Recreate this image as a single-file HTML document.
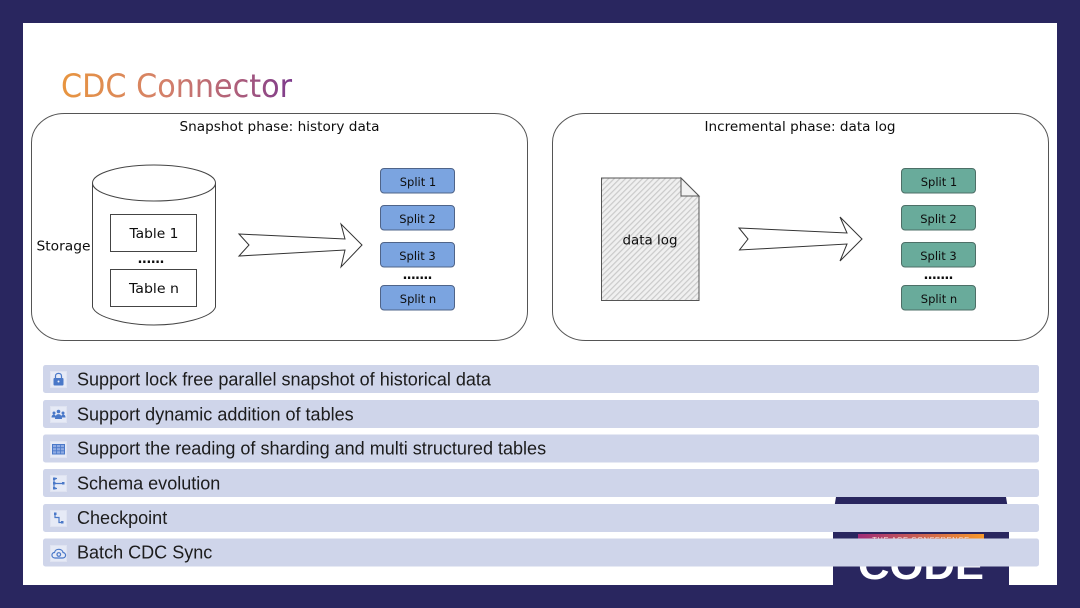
<!DOCTYPE html>
<html><head><meta charset="utf-8">
<style>
html,body{margin:0;padding:0;width:1080px;height:608px;overflow:hidden;background:#29265f}
svg{display:block;filter:blur(.35px)}
.h{font-family:"DejaVu Sans",sans-serif;fill:#0d0d0d;text-anchor:middle;font-size:13px}
.s{font-size:11.5px}
.r{font-family:"Liberation Sans",sans-serif;font-size:18.05px;fill:#1c1c1c}
.l{fill:none;stroke:#444;stroke-width:1}
.i{fill:#e6eaf6;stroke:#dfe3f1;stroke-width:1}
.b{fill:#4a78c8}
.bs{fill:none;stroke:#4a78c8;stroke-width:1.2}
</style></head><body>
<svg width="1080" height="608" viewBox="0 0 1080 608" xmlns="http://www.w3.org/2000/svg">
<defs>
<linearGradient id="tg" gradientUnits="userSpaceOnUse" x1="62" y1="0" x2="292" y2="0">
<stop offset="0" stop-color="#e8953f"/><stop offset=".45" stop-color="#d4806a"/><stop offset=".75" stop-color="#b0607a"/><stop offset="1" stop-color="#7d3a8c"/>
</linearGradient>
<linearGradient id="og" x1="0" y1="0" x2="1" y2="0">
<stop offset="0" stop-color="#a02c78"/><stop offset="1" stop-color="#f7982a"/>
</linearGradient>
<pattern id="hatch" width="4" height="4" patternUnits="userSpaceOnUse" patternTransform="rotate(45)">
<rect width="4" height="4" fill="#f0f0f0"/><rect width="1.2" height="4" fill="#cacaca"/>
</pattern>
</defs>

<rect x="23" y="23" width="1034" height="562" fill="#fff"/>

<!-- badge -->
<path d="M836 497H1006L1009 515V585H833V515Z" fill="#29265f"/>
<rect x="858" y="534" width="126" height="12" fill="url(#og)"/>
<text x="921" y="542" font-family="Liberation Sans,sans-serif" font-size="7.5" fill="#f3d9d0" text-anchor="middle" letter-spacing=".6">THE ACE CONFERENCE</text>
<text x="921" y="579" font-family="Liberation Sans,sans-serif" font-size="40" font-weight="700" fill="#fff" text-anchor="middle" textLength="126" lengthAdjust="spacingAndGlyphs">CODE</text>

<!-- title -->
<text x="61" y="97" font-family="DejaVu Sans,sans-serif" font-size="32" fill="url(#tg)" textLength="231" lengthAdjust="spacingAndGlyphs">CDC Connector</text>

<!-- panels -->
<rect x="31.500" y="113.500" width="496" height="227" rx="33" ry="29" fill="#fff" stroke="#555" stroke-width="1"/>
<rect x="552.500" y="113.500" width="496" height="227" rx="33" ry="29" fill="#fff" stroke="#555" stroke-width="1"/>
<text class="h" x="279.500" y="131" textLength="200" lengthAdjust="spacingAndGlyphs">Snapshot phase: history data</text>
<text class="h" x="800" y="131" textLength="191" lengthAdjust="spacingAndGlyphs">Incremental phase: data log</text>

<!-- cylinder -->
<path class="l" d="M92.500 183V307C96 318 128 325 154 325C180 325 212 318 215.500 307V183"/>
<ellipse class="l" cx="154" cy="183" rx="61.500" ry="18"/>
<rect class="l" x="110.500" y="214.500" width="86" height="37"/>
<rect class="l" x="110.500" y="269.500" width="86" height="37"/>
<text class="h" x="154" y="238" textLength="49" lengthAdjust="spacingAndGlyphs">Table 1</text>
<text class="h" x="154" y="293" textLength="50" lengthAdjust="spacingAndGlyphs">Table n</text>
<text class="h" x="63.500" y="250.500" textLength="54" lengthAdjust="spacingAndGlyphs">Storage</text>
<text class="h" x="151" y="263" textLength="27" lengthAdjust="spacing" font-weight="700" font-size="11">......</text>

<!-- arrows -->
<path d="M239 234L345 239L341 224L362 245L341 267L345 250L239 256L249 245Z" fill="#fff" stroke="#333" stroke-width="1"/>
<path d="M739 228L847 233L840 217L862 239L840 261L847 244L739.500 250L748 239Z" fill="#fff" stroke="#333" stroke-width="1"/>

<!-- blue splits -->
<g fill="#7ba4e0" stroke="#4f6489" stroke-width="1">
<rect x="380.500" y="168.500" width="74" height="24.500" rx="3.500"/>
<rect x="380.500" y="205.500" width="74" height="24.500" rx="3.500"/>
<rect x="380.500" y="242.500" width="74" height="24.500" rx="3.500"/>
<rect x="380.500" y="285.500" width="74" height="24.500" rx="3.500"/>
</g>
<text class="h s" x="418" y="186">Split 1</text>
<text class="h s" x="417.500" y="223">Split 2</text>
<text class="h s" x="417.500" y="260">Split 3</text>
<text class="h s" x="418" y="303">Split n</text>
<text class="h" x="417.500" y="279" font-weight="700" font-size="11" textLength="30" lengthAdjust="spacing">.......</text>

<!-- doc -->
<path d="M601.500 178H681L699 196V300.500H601.500Z" fill="url(#hatch)" stroke="#555" stroke-width="1"/>
<path d="M681 178L699 196H681Z" fill="#f2f2f2" stroke="#555" stroke-width="1"/>
<text class="h" x="650" y="244.500" textLength="55" lengthAdjust="spacingAndGlyphs">data log</text>

<!-- green splits -->
<g fill="#69ab9b" stroke="#4d6f67" stroke-width="1">
<rect x="901.500" y="168.500" width="74" height="24.500" rx="3.500"/>
<rect x="901.500" y="205.500" width="74" height="24.500" rx="3.500"/>
<rect x="901.500" y="242.500" width="74" height="24.500" rx="3.500"/>
<rect x="901.500" y="285.500" width="74" height="24.500" rx="3.500"/>
</g>
<text class="h s" x="939" y="186">Split 1</text>
<text class="h s" x="938.500" y="223">Split 2</text>
<text class="h s" x="938.500" y="260">Split 3</text>
<text class="h s" x="939" y="303">Split n</text>
<text class="h" x="938.500" y="279" font-weight="700" font-size="11" textLength="30" lengthAdjust="spacing">.......</text>

<!-- rows -->
<g fill="#cfd5ea">
<rect x="43" y="365" width="996" height="28" rx="2.500"/>
<rect x="43" y="400" width="996" height="28" rx="2.500"/>
<rect x="43" y="434.500" width="996" height="28" rx="2.500"/>
<rect x="43" y="469" width="996" height="28" rx="2.500"/>
<rect x="43" y="504" width="996" height="28" rx="2.500"/>
<rect x="43" y="538.500" width="996" height="28" rx="2.500"/>
</g>
<text class="r" x="77" y="385.500">Support lock free parallel snapshot of historical data</text>
<text class="r" x="77" y="420.500">Support dynamic addition of tables</text>
<text class="r" x="77" y="454.500">Support the reading of sharding and multi structured tables</text>
<text class="r" x="77" y="489.500">Schema evolution</text>
<text class="r" x="77" y="524">Checkpoint</text>
<text class="r" x="77" y="558.500">Batch CDC Sync</text>

<!-- icons -->
<g>
<rect class="i" x="50.500" y="371.500" width="16" height="16"/>
<rect class="b" x="53.500" y="378" width="10" height="7.500" rx="1"/>
<path class="bs" d="M55.500 378V376C55.500 372.500 61.500 372.500 61.500 376V378"/>
<circle cx="58.500" cy="381.500" r="1" fill="#eef0f8"/>

<rect class="i" x="50.500" y="406.500" width="16" height="16"/>
<circle class="b" cx="58.500" cy="411.500" r="1.800"/><circle class="b" cx="54" cy="413" r="1.500"/><circle class="b" cx="63" cy="413" r="1.500"/>
<path class="b" d="M55 419C55 412.500 62 412.500 62 419Z"/><path class="b" d="M51.500 417.500C51.500 413.500 56 413.500 56 417.500Z"/><path class="b" d="M61 417.500C61 413.500 65.500 413.500 65.500 417.500Z"/>

<rect class="i" x="50.500" y="441.500" width="16" height="16"/>
<rect x="52.500" y="444.500" width="12" height="9.500" fill="#8fabe3" stroke="#4a78c8" stroke-width="1"/>
<path d="M52.500 447.700H64.500M52.500 450.800H64.500M56.500 444.500V454M60.500 444.500V454" stroke="#4a78c8" stroke-width=".8"/>

<rect class="i" x="50.500" y="475.500" width="16" height="16"/>
<path class="bs" d="M54 478.500V488.500M54 483.500H63M57 478.500H54M57 488.500H54" stroke-width="1"/>
<rect class="b" x="53" y="477.500" width="2.500" height="2.500"/><rect class="b" x="53" y="482" width="2.500" height="2.500"/><rect class="b" x="53" y="487" width="2.500" height="2.500"/><rect class="b" x="62" y="482" width="2.500" height="2.500"/>

<rect class="i" x="50.500" y="510.500" width="16" height="16"/>
<path class="bs" d="M55 513.500V517.500H59V522.500H62"/>
<rect class="b" x="54" y="512.500" width="2.500" height="2.500"/><rect class="b" x="61" y="521" width="2.500" height="2.500"/>

<rect class="i" x="50.500" y="545.500" width="16" height="16"/>
<path class="bs" d="M55 558C51 558 51 552.500 54.500 552.500C55.500 548 62.500 548.500 63 552.500C66.500 553 66.500 558 62.500 558Z" stroke-width="1"/>
<circle class="bs" cx="58.800" cy="554.500" r="1.800" stroke-width="1"/>
</g>
</svg>
</body></html>
